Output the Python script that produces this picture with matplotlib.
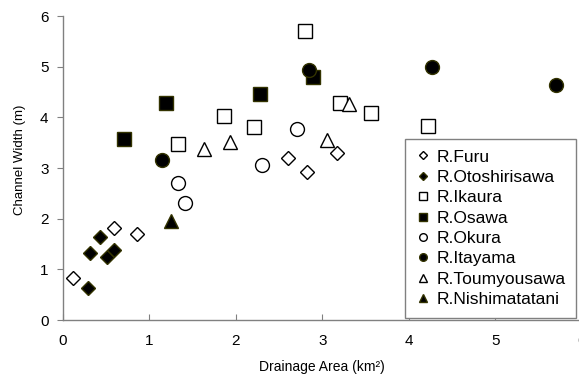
import matplotlib
matplotlib.use("Agg")
import matplotlib.pyplot as plt

plt.rcParams['font.family'] = ['Liberation Sans', 'DejaVu Sans']

# Data (Drainage area km^2, channel width m)
furu_x = [0.12, 0.60, 0.86, 2.61, 2.82, 3.17]
furu_y = [0.82, 1.82, 1.70, 3.19, 2.93, 3.30]
otoshi_x = [0.29, 0.32, 0.43, 0.51, 0.59]
otoshi_y = [0.64, 1.33, 1.64, 1.25, 1.39]
ikaura_x = [1.33, 1.86, 2.21, 2.80, 3.21, 3.56, 4.22]
ikaura_y = [3.47, 4.02, 3.81, 5.71, 4.29, 4.08, 3.83]
osawa_x = [0.71, 1.20, 2.28, 2.89]
osawa_y = [3.58, 4.29, 4.47, 4.79]
okura_x = [1.33, 1.42, 2.30, 2.71]
okura_y = [2.70, 2.31, 3.06, 3.76]
itayama_x = [1.15, 2.85, 4.27, 5.70]
itayama_y = [3.16, 4.94, 5.00, 4.64]
toumyou_x = [1.64, 1.94, 3.06, 3.31]
toumyou_y = [3.37, 3.52, 3.55, 4.26]
nishi_x = [1.25]
nishi_y = [1.96]

series = [
    ("R.Furu", furu_x, furu_y, 'D', False),
    ("R.Otoshirisawa", otoshi_x, otoshi_y, 'D', True),
    ("R.Ikaura", ikaura_x, ikaura_y, 's', False),
    ("R.Osawa", osawa_x, osawa_y, 's', True),
    ("R.Okura", okura_x, okura_y, 'o', False),
    ("R.Itayama", itayama_x, itayama_y, 'o', True),
    ("R.Toumyousawa", toumyou_x, toumyou_y, '^', False),
    ("R.Nishimatatani", nishi_x, nishi_y, '^', True),
]

fig = plt.figure(figsize=(5.79, 3.78), dpi=100)
ax = fig.add_axes([62.5/579, 58/378, (582-62.5)/579, 304/378])

for name, xs, ys, m, filled in series:
    ax.plot(xs, ys, linestyle='none', marker=m, markersize=7.5 if m == 'D' else 10,
            markerfacecolor='black' if filled else 'white',
            markeredgecolor='#333300' if filled else 'black',
            markeredgewidth=1.0, label=name, clip_on=False)

ax.set_xlim(0, 6)
ax.set_ylim(0, 6)
ax.set_xticks(range(7))
ax.set_yticks(range(7))
for s in ['top', 'right']:
    ax.spines[s].set_visible(False)
for s in ['left', 'bottom']:
    ax.spines[s].set_color('#808080')
    ax.spines[s].set_linewidth(1.0)
ax.tick_params(axis='x', direction='in', length=4, color='#808080', labelsize=11, pad=10)
ax.tick_params(axis='y', direction='out', length=4, color='#808080', labelsize=11, pad=6)

ax.set_xlabel("Drainage Area (km²)", fontsize=10, labelpad=9)
ax.set_ylabel("Channel Width (m)", fontsize=9.5)
ax.yaxis.set_label_coords(-36.5/519.5, 0.526)

leg = ax.legend(loc='upper right', bbox_to_anchor=(576/579, 1 - 139/378),
                bbox_transform=fig.transFigure,
                fontsize=12.5, frameon=True, fancybox=False, framealpha=1,
                markerscale=0.55, handlelength=0.9, handletextpad=0.3,
                labelspacing=0.3, borderaxespad=0, borderpad=0.6)
leg.get_frame().set_edgecolor('#808080')
leg.get_frame().set_linewidth(1.0)

fig.savefig("out.png", dpi=100)
